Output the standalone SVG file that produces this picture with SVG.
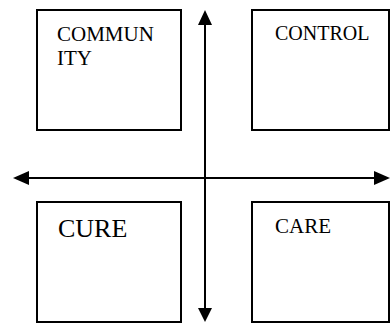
<svg xmlns="http://www.w3.org/2000/svg" width="390" height="323" viewBox="0 0 390 323">
<style>
.box{fill:#fff;stroke:#000;stroke-width:2}
.t{font-family:"Liberation Serif","Times New Roman",serif;font-size:20px;fill:#000}
.ln{stroke:#000;stroke-width:2;fill:none}
</style>
<rect width="390" height="323" fill="#fff"/>
<g id="community">
<rect class="box" x="37" y="10" width="144" height="120"/>
<text class="t" x="57" y="41" style="font-size:21px">COMMUN</text>
<text class="t" x="57" y="65" style="font-size:21px">ITY</text>
</g>
<g id="control">
<rect class="box" x="252" y="10" width="137" height="120"/>
<text class="t" x="275" y="40">CONTROL</text>
</g>
<g id="cure">
<rect class="box" x="37" y="202" width="144" height="120"/>
<text class="t" x="58" y="237" style="font-size:26px">CURE</text>
</g>
<g id="care">
<rect class="box" x="252" y="202" width="137" height="120"/>
<text class="t" x="275" y="233" style="font-size:21px">CARE</text>
</g>
<g id="connectors">
<line class="ln" x1="205" y1="166" x2="205" y2="25"/>
<path d="M205,10 L198,25 L212,25 Z" fill="#000"/>
<line class="ln" x1="205" y1="166" x2="205" y2="308"/>
<path d="M205,322 L198,308 L212,308 Z" fill="#000"/>
<line class="ln" x1="205" y1="178" x2="29" y2="178"/>
<path d="M13,178 L29,171 L29,185 Z" fill="#000"/>
<line class="ln" x1="205" y1="178" x2="374" y2="178"/>
<path d="M390,178 L374,171 L374,185 Z" fill="#000"/>
</g>
</svg>
